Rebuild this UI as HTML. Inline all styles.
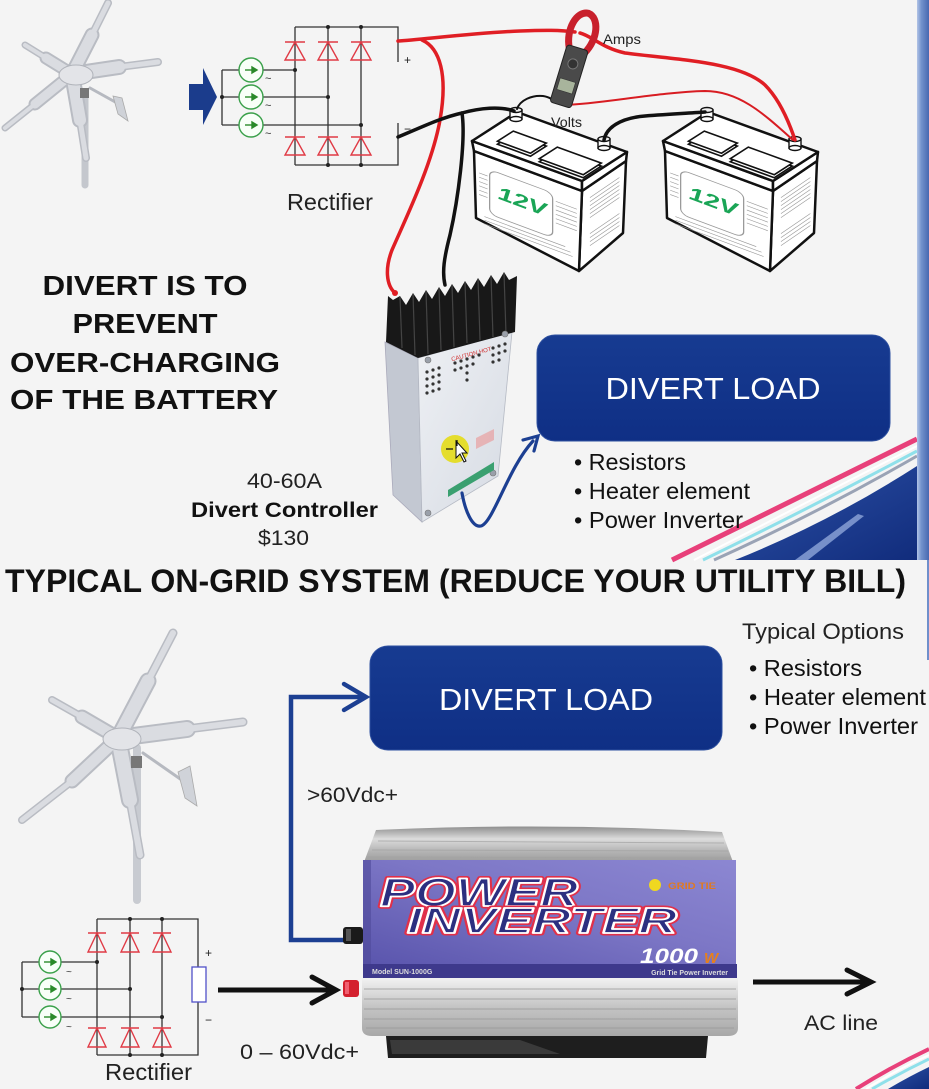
<!DOCTYPE html>
<html><head><meta charset="utf-8"><style>
html,body{margin:0;padding:0;background:#f4f4f4;}
svg{display:block;}
text{font-family:"Liberation Sans",Arial,sans-serif;}
</style></head><body>
<svg width="929" height="1089" viewBox="0 0 929 1089" xmlns="http://www.w3.org/2000/svg">
<defs>
 <linearGradient id="bar" x1="0" x2="1" y1="0" y2="0"><stop offset="0" stop-color="#b3c4e6"/><stop offset="0.35" stop-color="#7393cd"/><stop offset="1" stop-color="#4768b0"/></linearGradient>
 <linearGradient id="navy" x1="0" y1="0" x2="1" y2="1"><stop offset="0" stop-color="#2d52a8"/><stop offset="1" stop-color="#112c7c"/></linearGradient>
 <linearGradient id="box" x1="0" y1="0" x2="0" y2="1"><stop offset="0" stop-color="#173b91"/><stop offset="1" stop-color="#0f2f85"/></linearGradient>
 <linearGradient id="ctrl" x1="0" y1="0" x2="1" y2="1"><stop offset="0" stop-color="#eef0f4"/><stop offset="1" stop-color="#d6dbe3"/></linearGradient>
 <linearGradient id="lid" x1="0" y1="0" x2="0" y2="1"><stop offset="0" stop-color="#8e8e8e"/><stop offset="0.35" stop-color="#dcdcdc"/><stop offset="0.7" stop-color="#b4b4b4"/><stop offset="1" stop-color="#9c9c9c"/></linearGradient>
 <linearGradient id="purp" x1="0" y1="1" x2="1" y2="0"><stop offset="0" stop-color="#5a55ad"/><stop offset="0.55" stop-color="#7d77c6"/><stop offset="1" stop-color="#8c87d2"/></linearGradient>
 <linearGradient id="low" x1="0" y1="0" x2="0" y2="1"><stop offset="0" stop-color="#f2f2f2"/><stop offset="0.5" stop-color="#c4c4c4"/><stop offset="1" stop-color="#a8a8a8"/></linearGradient>
</defs>
<rect width="929" height="1089" fill="#f4f4f4"/>

<!-- ===== TOP SWOOSH ===== -->
<path d="M735 560 Q830 522 917 466 L917 560 Z" fill="url(#navy)"/>
<path d="M795 560 L858 514 L864 516 L808 560 Z" fill="#8ea6d9" opacity="0.8"/>
<path d="M714 560 Q816 514 917 456" stroke="#9aa3b5" stroke-width="3" fill="none"/>
<path d="M703 560 Q810 508 917 451" stroke="#8fe0ea" stroke-width="3" fill="none"/>
<path d="M694 560 Q804 504 917 446" stroke="#ffffff" stroke-width="2" fill="none"/>
<path d="M672 560 Q795 499 917 439" stroke="#e8407a" stroke-width="5" fill="none"/>
<rect x="917" y="0" width="12" height="560" fill="url(#bar)"/>
<rect x="927" y="560" width="2" height="100" fill="#6f8fcb"/>

<!-- ===== TOP WIND TURBINE ===== -->
<g stroke-linecap="round" fill="none">
 <line x1="85" y1="95" x2="85" y2="185" stroke="#c4c7cd" stroke-width="7"/>
 <line x1="90" y1="88" x2="117" y2="103" stroke="#b6b9c0" stroke-width="3"/>
 <g stroke="#b9bcc3">
  <path d="M72 74 L92 35" stroke-width="15"/><path d="M92 35 L108 3" stroke-width="8"/>
  <path d="M72 74 L119 67" stroke-width="16"/><path d="M119 67 L158 62" stroke-width="8"/>
  <path d="M72 74 L46 58" stroke-width="13"/><path d="M46 58 L25 45" stroke-width="7"/>
  <path d="M72 74 L35 104" stroke-width="13"/><path d="M35 104 L5 128" stroke-width="7"/>
  <path d="M72 74 L80 120" stroke-width="16"/><path d="M80 120 L86 158" stroke-width="8"/>
 </g>
 <g stroke="#dadce1">
  <path d="M72 74 L92 35" stroke-width="11"/><path d="M92 35 L108 3" stroke-width="5"/>
  <path d="M72 74 L119 67" stroke-width="12"/><path d="M119 67 L158 62" stroke-width="5"/>
  <path d="M72 74 L46 58" stroke-width="9"/><path d="M46 58 L25 45" stroke-width="4"/>
  <path d="M72 74 L35 104" stroke-width="9"/><path d="M35 104 L5 128" stroke-width="4"/>
  <path d="M72 74 L80 120" stroke-width="12"/><path d="M80 120 L86 158" stroke-width="5"/>
 </g>
</g>
<polygon points="113,96 122,98 128,121 118,114" fill="#cfd2d8" stroke="#aaa" stroke-width="0.8"/>
<ellipse cx="76" cy="75" rx="17" ry="10" fill="#e3e4e8" stroke="#b0b3ba"/>
<rect x="80" y="88" width="9" height="10" fill="#777"/>

<!-- ===== TOP BLUE ARROW ===== -->
<polygon points="189,84 203,84 203,68 217,97 203,125 203,110 189,110" fill="#1b3c8c"/>

<!-- ===== TOP RECTIFIER ===== -->
<g stroke="#333" stroke-width="1.3" fill="none">
 <polyline points="295,27 398,27 398,62"/>
 <polyline points="398,123 398,165 295,165"/>
 <line x1="295" y1="27" x2="295" y2="165"/>
 <line x1="328" y1="27" x2="328" y2="165"/>
 <line x1="361" y1="27" x2="361" y2="165"/>
 <line x1="222" y1="70" x2="222" y2="125"/>
 <line x1="222" y1="70" x2="239" y2="70"/><line x1="222" y1="97" x2="239" y2="97"/><line x1="222" y1="125" x2="239" y2="125"/>
 <line x1="263" y1="70" x2="295" y2="70"/><line x1="263" y1="97" x2="328" y2="97"/><line x1="263" y1="125" x2="361" y2="125"/>
</g>
<g fill="#222">
 <circle cx="328" cy="27" r="2"/><circle cx="361" cy="27" r="2"/><circle cx="328" cy="165" r="2"/><circle cx="361" cy="165" r="2"/>
 <circle cx="295" cy="70" r="2"/><circle cx="328" cy="97" r="2"/><circle cx="361" cy="125" r="2"/><circle cx="222" cy="97" r="2"/>
</g>
<g stroke="#e03a45" stroke-width="1.4" fill="none">
 <path d="M285 42 H305 M295 42 L285 60 H305 Z"/>
 <path d="M318 42 H338 M328 42 L318 60 H338 Z"/>
 <path d="M351 42 H371 M361 42 L351 60 H371 Z"/>
 <path d="M285 137 H305 M295 137 L285 155 H305 Z"/>
 <path d="M318 137 H338 M328 137 L318 155 H338 Z"/>
 <path d="M351 137 H371 M361 137 L351 155 H371 Z"/>
</g>
<g stroke="#3aa04a" stroke-width="1.4" fill="#f8fff8">
 <circle cx="251" cy="70" r="12"/><circle cx="251" cy="97" r="12"/><circle cx="251" cy="125" r="12"/>
</g>
<g stroke="#2a8a2a" stroke-width="1.4" fill="#2a8a2a">
 <line x1="245" y1="70" x2="253" y2="70"/><polygon points="252,67 257,70 252,73"/>
 <line x1="245" y1="97" x2="253" y2="97"/><polygon points="252,94 257,97 252,100"/>
 <line x1="245" y1="125" x2="253" y2="125"/><polygon points="252,122 257,125 252,128"/>
</g>
<g font-size="11" fill="#333"><text x="265" y="82">~</text><text x="265" y="109">~</text><text x="265" y="137">~</text></g>
<text x="404" y="64" font-size="12" fill="#222">+</text>
<text x="404" y="133" font-size="12" fill="#222">−</text>
<text x="287" y="210" font-size="23" fill="#222" textLength="86" lengthAdjust="spacingAndGlyphs">Rectifier</text>

<!-- ===== BATTERY 1 ===== -->
<g>
 <g stroke="#111" stroke-width="2.5" stroke-linejoin="round" fill="#fff">
  <polygon points="582,191 626,161 623,233 579,271"/>
  <polygon points="474,151 582,191 579,271 476,218"/>
  <polygon points="472,141 582,181 582,191 474,151"/>
  <polygon points="582,181 627,152 626,161 582,191"/>
  <polygon points="472,141 517,112 627,152 582,181"/>
 </g>
 <g stroke="#111" stroke-width="1.6" fill="#fff">
  <polygon points="497.5,144.2 530.5,156.2 546.3,146.1 513.3,134.1"/>
  <polygon points="497.5,141.2 530.5,153.2 546.3,143.1 513.3,131.1"/>
  <polygon points="539.3,161.7 583.3,177.7 601.3,166.1 557.3,150.1"/>
  <polygon points="539.3,158.7 583.3,174.7 601.3,163.1 557.3,147.1"/>
 </g>
 <g stroke="#111" stroke-width="1.4" fill="#fff">
  <rect x="510" y="110" width="12" height="9"/><ellipse cx="516" cy="119" rx="6" ry="2.5"/><ellipse cx="516" cy="110" rx="6" ry="2.5" fill="#eee"/>
  <rect x="598" y="139" width="12" height="9"/><ellipse cx="604" cy="148" rx="6" ry="2.5"/><ellipse cx="604" cy="139" rx="6" ry="2.5" fill="#eee"/>
 </g>
 <g transform="matrix(1.05 0.39 0 0.72 476 153)">
  <rect x="13" y="16" width="60" height="62" rx="8" fill="none" stroke="#999" stroke-width="1.2"/>
  <g stroke="#999" stroke-width="0.9">
   <path d="M3 26H11M3 32H11M3 38H11M3 44H11M3 50H11M3 56H11M76 26H96M76 32H96M76 38H96M76 44H96M76 50H96M76 56H96M8 84H85M8 89H90M8 94H92"/>
  </g>
  <text x="44" y="52" text-anchor="middle" font-size="26" font-weight="bold" font-style="italic" fill="#1aa556">12V</text>
 </g>
 <g transform="matrix(0.44 -0.30 0 0.8 582 191)" stroke="#999" stroke-width="0.9">
  <path d="M18 15H85M18 20H85M18 25H85M18 30H85M18 35H85M18 40H85M18 60H85M18 65H85M18 70H85M18 75H85"/>
 </g>
</g>

<!-- ===== BATTERY 2 ===== -->
<g transform="translate(191,0)">
 <g stroke="#111" stroke-width="2.5" stroke-linejoin="round" fill="#fff">
  <polygon points="582,191 626,161 623,233 579,271"/>
  <polygon points="474,151 582,191 579,271 476,218"/>
  <polygon points="472,141 582,181 582,191 474,151"/>
  <polygon points="582,181 627,152 626,161 582,191"/>
  <polygon points="472,141 517,112 627,152 582,181"/>
 </g>
 <g stroke="#111" stroke-width="1.6" fill="#fff">
  <polygon points="497.5,144.2 530.5,156.2 546.3,146.1 513.3,134.1"/>
  <polygon points="497.5,141.2 530.5,153.2 546.3,143.1 513.3,131.1"/>
  <polygon points="539.3,161.7 583.3,177.7 601.3,166.1 557.3,150.1"/>
  <polygon points="539.3,158.7 583.3,174.7 601.3,163.1 557.3,147.1"/>
 </g>
 <g stroke="#111" stroke-width="1.4" fill="#fff">
  <rect x="510" y="110" width="12" height="9"/><ellipse cx="516" cy="119" rx="6" ry="2.5"/><ellipse cx="516" cy="110" rx="6" ry="2.5" fill="#eee"/>
  <rect x="598" y="139" width="12" height="9"/><ellipse cx="604" cy="148" rx="6" ry="2.5"/><ellipse cx="604" cy="139" rx="6" ry="2.5" fill="#eee"/>
 </g>
 <g transform="matrix(1.05 0.39 0 0.72 476 153)">
  <rect x="13" y="16" width="60" height="62" rx="8" fill="none" stroke="#999" stroke-width="1.2"/>
  <g stroke="#999" stroke-width="0.9">
   <path d="M3 26H11M3 32H11M3 38H11M3 44H11M3 50H11M3 56H11M76 26H96M76 32H96M76 38H96M76 44H96M76 50H96M76 56H96M8 84H85M8 89H90M8 94H92"/>
  </g>
  <text x="44" y="52" text-anchor="middle" font-size="26" font-weight="bold" font-style="italic" fill="#1aa556">12V</text>
 </g>
 <g transform="matrix(0.44 -0.30 0 0.8 582 191)" stroke="#999" stroke-width="0.9">
  <path d="M18 15H85M18 20H85M18 25H85M18 30H85M18 35H85M18 40H85M18 60H85M18 65H85M18 70H85M18 75H85"/>
 </g>
</g>

<!-- ===== WIRES ===== -->
<g fill="none" stroke-linecap="round" stroke-linejoin="round">
 <path d="M398 41 C420 40 470 33 520 31 C545 30 560 30 575 32" stroke="#e01e24" stroke-width="3.5"/>
 <path d="M580 33 C592 36 602 48 625 53 C680 60 740 62 765 85 C780 100 790 125 795 140" stroke="#e01e24" stroke-width="3.5"/>
 <path d="M422 40 C440 48 448 75 440 120 C432 165 405 220 392 250 C385 268 386 285 395 293" stroke="#e01e24" stroke-width="3.5"/>
 <path d="M565 105 C600 104 660 92 705 91 C740 91 765 115 793 140" stroke="#d81c22" stroke-width="2"/>
 <path d="M398 137 C420 128 440 118 462 113 C480 108 500 106 514 111" stroke="#111" stroke-width="3.5"/>
 <path d="M462 113 C466 140 458 200 450 235 C444 258 442 272 445 285" stroke="#111" stroke-width="3.5"/>
 <path d="M604 140 C606 128 620 118 645 116 C670 114 692 113 705 112" stroke="#111" stroke-width="3.5"/>
 <path d="M517 109 C520 100 532 95 543 96 C550 97 553 100 556 103" stroke="#111" stroke-width="2"/>
</g>

<!-- clamp meter -->
<g transform="translate(560,106) rotate(17)">
 <path d="M-8 -58 C-17 -75 -12 -96 0 -97 C12 -96 17 -75 8 -58" stroke="#c8202c" stroke-width="7" fill="none"/>
 <rect x="-11" y="-61" width="22" height="60" rx="3" fill="#4a4a4a" stroke="#222"/>
 <rect x="-8" y="-27" width="16" height="12" fill="#a8b49c" stroke="#333" stroke-width="0.6"/>
 <circle cx="0" cy="-44" r="5" fill="#333" stroke="#777"/>
</g>
<text x="603" y="44" font-size="14" fill="#222" textLength="38" lengthAdjust="spacingAndGlyphs">Amps</text>
<text x="551" y="127" font-size="14" fill="#222" textLength="31" lengthAdjust="spacingAndGlyphs">Volts</text>

<!-- ===== CONTROLLER ===== -->
<polygon points="385,342 418,358 422,522 393,495" fill="#c3c8d2" stroke="#aab" stroke-width="0.8"/>
<polygon points="418,358 512,332 498,476 422,522" fill="url(#ctrl)" stroke="#b5bac4" stroke-width="0.8"/>
<polygon points="386,342 418,358 515,332 517,276 509,280 504,272 497,284 491,275 484,287 478,278 471,290 465,281 458,293 452,284 445,296 439,287 432,299 426,290 419,302 413,293 406,305 400,296 393,300 388,296" fill="#181818"/>
<g stroke="#444" stroke-width="1.2">
 <line x1="400" y1="297" x2="402" y2="348"/><line x1="413" y1="294" x2="415" y2="355"/><line x1="426" y1="291" x2="428" y2="354"/>
 <line x1="439" y1="288" x2="441" y2="350"/><line x1="452" y1="285" x2="454" y2="347"/><line x1="465" y1="282" x2="467" y2="343"/>
 <line x1="478" y1="279" x2="480" y2="340"/><line x1="491" y1="276" x2="493" y2="337"/><line x1="504" y1="273" x2="506" y2="334"/>
</g>
<circle cx="395" cy="293" r="3" fill="#e01e24"/>
<g fill="#333">
 <circle cx="427" cy="372" r="1.6"/><circle cx="433" cy="370" r="1.6"/><circle cx="439" cy="368" r="1.6"/>
 <circle cx="427" cy="379" r="1.6"/><circle cx="433" cy="377" r="1.6"/><circle cx="439" cy="375" r="1.6"/>
 <circle cx="427" cy="386" r="1.6"/><circle cx="433" cy="384" r="1.6"/><circle cx="439" cy="382" r="1.6"/>
 <circle cx="427" cy="393" r="1.6"/><circle cx="433" cy="391" r="1.6"/><circle cx="439" cy="389" r="1.6"/>
 <circle cx="455" cy="363" r="1.6"/><circle cx="461" cy="361" r="1.6"/><circle cx="467" cy="359" r="1.6"/><circle cx="473" cy="357" r="1.6"/><circle cx="479" cy="355" r="1.6"/>
 <circle cx="455" cy="370" r="1.6"/><circle cx="461" cy="368" r="1.6"/><circle cx="467" cy="366" r="1.6"/><circle cx="473" cy="364" r="1.6"/>
 <circle cx="467" cy="373" r="1.6"/><circle cx="467" cy="380" r="1.6"/>
 <circle cx="493" cy="348" r="1.6"/><circle cx="499" cy="346" r="1.6"/><circle cx="505" cy="344" r="1.6"/>
 <circle cx="493" cy="355" r="1.6"/><circle cx="499" cy="353" r="1.6"/><circle cx="505" cy="351" r="1.6"/>
 <circle cx="493" cy="362" r="1.6"/><circle cx="499" cy="360" r="1.6"/>
</g>
<text x="450" y="357" font-size="6" fill="#d03030" transform="rotate(-15 467 352)">CAUTION HOT</text>
<g fill="#9aa0aa" stroke="#777" stroke-width="0.6">
 <circle cx="428" cy="360" r="3"/><circle cx="505" cy="334" r="3"/><circle cx="493" cy="473" r="3"/><circle cx="428" cy="513" r="3"/>
</g>
<polygon points="448,490 494,462 494,470 448,497" fill="#3aa070"/>
<polygon points="476,438 494,429 494,440 476,449" fill="#e8a0a0" opacity="0.7"/>
<circle cx="455" cy="449" r="14" fill="#e4dc18" opacity="0.9"/>
<path d="M456 441 L456 458 L460 454 L464 462 L466 461 L462 453 L467 453 Z" fill="#fff" stroke="#111" stroke-width="1"/>
<path d="M446 449 H453 M457 440 V446" stroke="#111" stroke-width="1.2"/>

<!-- blue curved arrow -->
<path d="M462 493 C465 510 472 528 481 526 C493 523 508 468 533 441" stroke="#1c3f92" stroke-width="3.2" fill="none" stroke-linecap="round"/>
<path d="M523 440 L538 436 L534 451" stroke="#1c3f92" stroke-width="3.2" fill="none" stroke-linecap="round" stroke-linejoin="miter"/>

<!-- ===== TOP LEFT TEXT ===== -->
<g font-weight="bold" font-size="28" fill="#111" text-anchor="middle">
 <text x="145" y="295" textLength="205" lengthAdjust="spacingAndGlyphs">DIVERT IS TO</text>
 <text x="145" y="333" textLength="145" lengthAdjust="spacingAndGlyphs">PREVENT</text>
 <text x="145" y="372" textLength="270" lengthAdjust="spacingAndGlyphs">OVER-CHARGING</text>
 <text x="144" y="409" textLength="268" lengthAdjust="spacingAndGlyphs">OF THE BATTERY</text>
</g>
<text x="247" y="488" font-size="21" fill="#222" textLength="75" lengthAdjust="spacingAndGlyphs">40-60A</text>
<text x="191" y="517" font-size="21" font-weight="bold" fill="#111" textLength="187" lengthAdjust="spacingAndGlyphs">Divert Controller</text>
<text x="258" y="545" font-size="21" fill="#222" textLength="51" lengthAdjust="spacingAndGlyphs">$130</text>

<!-- ===== TOP DIVERT LOAD ===== -->
<rect x="537" y="335" width="353" height="106" rx="18" fill="url(#box)" stroke="#2d4f9f" stroke-width="1"/>
<text x="713" y="399" text-anchor="middle" font-size="31" fill="#fff" textLength="215" lengthAdjust="spacingAndGlyphs">DIVERT LOAD</text>
<g font-size="23" fill="#111">
 <text x="574" y="470" textLength="112" lengthAdjust="spacingAndGlyphs">• Resistors</text>
 <text x="574" y="499" textLength="176" lengthAdjust="spacingAndGlyphs">• Heater element</text>
 <text x="574" y="528" textLength="169" lengthAdjust="spacingAndGlyphs">• Power Inverter</text>
</g>

<!-- ===== BOTTOM TITLE ===== -->
<text x="5" y="592" font-size="32" font-weight="bold" fill="#111" textLength="901" lengthAdjust="spacingAndGlyphs">TYPICAL ON-GRID SYSTEM (REDUCE YOUR UTILITY BILL)</text>

<text x="742" y="639" font-size="22" fill="#222" textLength="162" lengthAdjust="spacingAndGlyphs">Typical Options</text>
<g font-size="23" fill="#111">
 <text x="749" y="676" textLength="113" lengthAdjust="spacingAndGlyphs">• Resistors</text>
 <text x="749" y="705" textLength="177" lengthAdjust="spacingAndGlyphs">• Heater element</text>
 <text x="749" y="734" textLength="169" lengthAdjust="spacingAndGlyphs">• Power Inverter</text>
</g>

<!-- bottom DIVERT LOAD -->
<rect x="370" y="646" width="352" height="104" rx="18" fill="url(#box)" stroke="#2d4f9f" stroke-width="1"/>
<text x="546" y="710" text-anchor="middle" font-size="31" fill="#fff" textLength="214" lengthAdjust="spacingAndGlyphs">DIVERT LOAD</text>

<!-- bottom blue connector -->
<path d="M347 940 L291 940 L291 697 L364 697" stroke="#1c3f92" stroke-width="4.5" fill="none" stroke-linejoin="miter"/>
<path d="M344 684 L366 697 L344 710" stroke="#1c3f92" stroke-width="4.5" fill="none" stroke-linecap="round" stroke-linejoin="miter"/>
<text x="307" y="802" font-size="21" fill="#222" textLength="91" lengthAdjust="spacingAndGlyphs">&gt;60Vdc+</text>

<!-- ===== BOTTOM WIND TURBINE ===== -->
<g stroke-linecap="round" fill="none">
 <line x1="137" y1="748" x2="137" y2="900" stroke="#c8cbd1" stroke-width="8"/>
 <line x1="143" y1="753" x2="186" y2="783" stroke="#b6b9c0" stroke-width="3"/>
 <g stroke="#b9bcc3">
  <path d="M118 738 L148 681" stroke-width="17"/><path d="M148 681 L173 633" stroke-width="9"/>
  <path d="M118 738 L187 729" stroke-width="18"/><path d="M187 729 L243 722" stroke-width="9"/>
  <path d="M118 738 L82 717" stroke-width="15"/><path d="M82 717 L52 700" stroke-width="8"/>
  <path d="M118 738 L72 781" stroke-width="15"/><path d="M72 781 L22 820" stroke-width="8"/>
  <path d="M118 738 L130 800" stroke-width="18"/><path d="M130 800 L140 855" stroke-width="9"/>
 </g>
 <g stroke="#dadce1">
  <path d="M118 738 L148 681" stroke-width="13"/><path d="M148 681 L173 633" stroke-width="6"/>
  <path d="M118 738 L187 729" stroke-width="14"/><path d="M187 729 L243 722" stroke-width="6"/>
  <path d="M118 738 L82 717" stroke-width="11"/><path d="M82 717 L52 700" stroke-width="5"/>
  <path d="M118 738 L72 781" stroke-width="11"/><path d="M72 781 L22 820" stroke-width="5"/>
  <path d="M118 738 L130 800" stroke-width="14"/><path d="M130 800 L140 855" stroke-width="6"/>
 </g>
</g>
<polygon points="178,772 190,766 197,806 185,798" fill="#d0d3d9" stroke="#aaa" stroke-width="0.8"/>
<ellipse cx="122" cy="739" rx="19" ry="11" fill="#e3e4e8" stroke="#b0b3ba"/>
<rect x="131" y="756" width="11" height="12" fill="#777"/>

<!-- ===== BOTTOM RECTIFIER ===== -->
<g stroke="#333" stroke-width="1.3" fill="none">
 <polyline points="97,919 198,919 198,967"/>
 <polyline points="198,1002 198,1055 97,1055"/>
 <line x1="97" y1="919" x2="97" y2="1055"/>
 <line x1="130" y1="919" x2="130" y2="1055"/>
 <line x1="162" y1="919" x2="162" y2="1055"/>
 <line x1="22" y1="962" x2="22" y2="1017"/>
 <line x1="22" y1="962" x2="39" y2="962"/><line x1="22" y1="989" x2="39" y2="989"/><line x1="22" y1="1017" x2="39" y2="1017"/>
 <line x1="61" y1="962" x2="97" y2="962"/><line x1="61" y1="989" x2="130" y2="989"/><line x1="61" y1="1017" x2="162" y2="1017"/>
</g>
<g fill="#222">
 <circle cx="130" cy="919" r="2"/><circle cx="162" cy="919" r="2"/><circle cx="130" cy="1055" r="2"/><circle cx="162" cy="1055" r="2"/>
 <circle cx="97" cy="962" r="2"/><circle cx="130" cy="989" r="2"/><circle cx="162" cy="1017" r="2"/><circle cx="22" cy="989" r="2"/>
</g>
<g stroke="#e03a45" stroke-width="1.4" fill="none">
 <path d="M88 933 H106 M97 933 L88 952 H106 Z"/>
 <path d="M121 933 H139 M130 933 L121 952 H139 Z"/>
 <path d="M153 933 H171 M162 933 L153 952 H171 Z"/>
 <path d="M88 1028 H106 M97 1028 L88 1047 H106 Z"/>
 <path d="M121 1028 H139 M130 1028 L121 1047 H139 Z"/>
 <path d="M153 1028 H171 M162 1028 L153 1047 H171 Z"/>
</g>
<g stroke="#3aa04a" stroke-width="1.4" fill="#f8fff8">
 <circle cx="50" cy="962" r="11"/><circle cx="50" cy="989" r="11"/><circle cx="50" cy="1017" r="11"/>
</g>
<g stroke="#2a8a2a" stroke-width="1.4" fill="#2a8a2a">
 <line x1="44" y1="962" x2="52" y2="962"/><polygon points="51,959 56,962 51,965"/>
 <line x1="44" y1="989" x2="52" y2="989"/><polygon points="51,986 56,989 51,992"/>
 <line x1="44" y1="1017" x2="52" y2="1017"/><polygon points="51,1014 56,1017 51,1020"/>
</g>
<g font-size="10" fill="#333"><text x="66" y="975">~</text><text x="66" y="1002">~</text><text x="66" y="1030">~</text></g>
<rect x="192" y="967" width="14" height="35" fill="#fff" stroke="#5050c8" stroke-width="1.3"/>
<text x="205" y="957" font-size="12" fill="#222">+</text>
<text x="205" y="1024" font-size="12" fill="#222">−</text>
<text x="105" y="1080" font-size="23" fill="#222" textLength="87" lengthAdjust="spacingAndGlyphs">Rectifier</text>

<!-- black arrow -->
<path d="M218 990 L333 990" stroke="#111" stroke-width="5" fill="none"/>
<path d="M312 977 L336 990 L312 1003" stroke="#111" stroke-width="5" fill="none" stroke-linecap="round" stroke-linejoin="miter"/>
<text x="240" y="1059" font-size="21" fill="#222" textLength="119" lengthAdjust="spacingAndGlyphs">0 – 60Vdc+</text>

<!-- ===== INVERTER ===== -->
<path d="M376 830 Q550 822 722 832 L733 862 L364 862 Z" fill="url(#lid)"/>
<g stroke="#a2a2a2" stroke-width="1" opacity="0.7"><line x1="378" y1="841" x2="724" y2="843"/><line x1="372" y1="850" x2="728" y2="851"/><line x1="368" y1="857" x2="731" y2="858"/></g>
<rect x="363" y="860" width="373" height="104" fill="url(#purp)"/>
<rect x="363" y="860" width="8" height="118" fill="#4e4a9a" opacity="0.6"/>
<rect x="363" y="964" width="374" height="14" fill="#3e398c"/>
<text x="372" y="974" font-size="7" font-weight="bold" fill="#ddd">Model  SUN-1000G</text>
<text x="728" y="975" font-size="7" font-weight="bold" fill="#ddd" text-anchor="end">Grid Tie Power Inverter</text>
<path d="M362 978 L738 978 L738 1028 Q738 1036 728 1036 L372 1036 Q362 1036 362 1028 Z" fill="url(#low)"/>
<g stroke="#9a9a9a" stroke-width="1" opacity="0.8"><line x1="364" y1="989" x2="736" y2="989"/><line x1="364" y1="999" x2="736" y2="999"/><line x1="364" y1="1009" x2="736" y2="1009"/><line x1="364" y1="1019" x2="736" y2="1019"/><line x1="366" y1="1028" x2="734" y2="1028"/></g>
<path d="M386 1036 L708 1036 L706 1058 L388 1058 Z" fill="#1e1e1e"/>
<path d="M390 1040 L520 1040 L560 1054 L392 1054 Z" fill="#3a3a3a"/>
<rect x="343" y="927" width="20" height="17" rx="3" fill="#1a1a1a"/>
<rect x="346" y="929" width="5" height="12" fill="#555"/>
<rect x="343" y="980" width="16" height="17" rx="3" fill="#d4202e"/>
<rect x="345" y="982" width="4" height="12" fill="#f06070"/>
<g font-weight="bold" font-style="italic">
 <text x="380" y="906" font-size="40" fill="#2c2f80" stroke="#e0304a" stroke-width="5" stroke-linejoin="round" textLength="198" lengthAdjust="spacingAndGlyphs">POWER</text>
 <text x="380" y="906" font-size="40" fill="#2c2f80" stroke="#ffffff" stroke-width="1.8" stroke-linejoin="round" textLength="198" lengthAdjust="spacingAndGlyphs">POWER</text>
 <text x="407" y="933" font-size="36" fill="#2c2f80" stroke="#e0304a" stroke-width="5" stroke-linejoin="round" textLength="270" lengthAdjust="spacingAndGlyphs">INVERTER</text>
 <text x="407" y="933" font-size="36" fill="#2c2f80" stroke="#ffffff" stroke-width="1.8" stroke-linejoin="round" textLength="270" lengthAdjust="spacingAndGlyphs">INVERTER</text>
 <text x="640" y="963" font-size="21" fill="#ffffff" textLength="58" lengthAdjust="spacingAndGlyphs">1000</text>
 <text x="704" y="963" font-size="15" fill="#e8801a">W</text>
</g>
<circle cx="655" cy="885" r="6" fill="#f0d820"/>
<text x="668" y="889" font-size="9" font-weight="bold" fill="#e07a20" textLength="48" lengthAdjust="spacingAndGlyphs">GRID TIE</text>

<!-- AC arrow -->
<path d="M753 982 L868 982" stroke="#111" stroke-width="5" fill="none"/>
<path d="M847 970 L871 982 L847 994" stroke="#111" stroke-width="5" fill="none" stroke-linecap="round" stroke-linejoin="miter"/>
<text x="804" y="1030" font-size="21" fill="#222" textLength="74" lengthAdjust="spacingAndGlyphs">AC line</text>

<!-- bottom swoosh -->
<path d="M888 1089 Q908 1077 929 1067 L929 1089 Z" fill="url(#navy)"/>
<path d="M872 1089 Q900 1073 929 1059" stroke="#8fe0ea" stroke-width="3" fill="none"/>
<path d="M866 1089 Q896 1070 929 1055" stroke="#ffffff" stroke-width="2" fill="none"/>
<path d="M856 1089 Q891 1067 929 1049" stroke="#e8407a" stroke-width="4" fill="none"/>
</svg>
</body></html>
